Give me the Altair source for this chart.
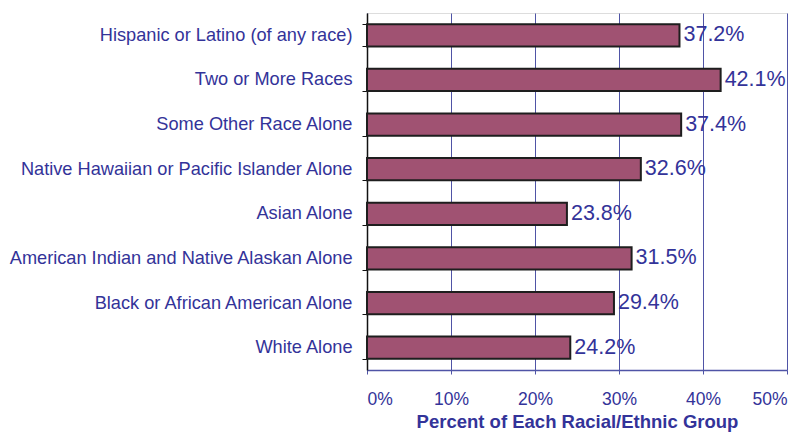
import altair as alt
import pandas as pd

categories = [
    "Hispanic or Latino (of any race)",
    "Two or More Races",
    "Some Other Race Alone",
    "Native Hawaiian or Pacific Islander Alone",
    "Asian Alone",
    "American Indian and Native Alaskan Alone",
    "Black or African American Alone",
    "White Alone",
]
values = [37.2, 42.1, 37.4, 32.6, 23.8, 31.5, 29.4, 24.2]
x_ticks = [0, 10, 20, 30, 40, 50]

df = pd.DataFrame({"cat": categories, "val": [v / 100 for v in values],
                   "label": [f"{v:.1f}%" for v in values]})

FONT = "Liberation Sans"
TXT = "#333399"
GRID = "#4f54a6"

y_enc = alt.Y("cat:N", sort=categories, title=None,
              scale=alt.Scale(paddingInner=0.5, paddingOuter=0.25),
              axis=alt.Axis(tickBand="extent", domainColor="#111111", domainWidth=1.5,
                            tickColor="#111111", tickSize=5, tickWidth=1,
                            labelPadding=10, labelFont=FONT, labelFontSize=18.2,
                            labelColor=TXT, labelLimit=400, grid=False))
x_enc = alt.X("val:Q", title="Percent of Each Racial/Ethnic Group",
              scale=alt.Scale(domain=[0, 0.5], nice=False),
              axis=alt.Axis(values=[t / 100 for t in x_ticks], format=".0%",
                            grid=True, gridColor=GRID, gridWidth=1,
                            domainColor=GRID, domainWidth=1.5,
                            tickColor=GRID, tickSize=4, labelPadding=16,
                            labelFont=FONT, labelFontSize=17.5, labelColor=TXT,
                            titleFont=FONT, titleFontSize=18.5, titleFontWeight="bold",
                            titleColor=TXT, titlePadding=5))

bars = alt.Chart(df).mark_bar(color="#a05272", stroke="#1e1e1e", strokeWidth=2).encode(
    y=y_enc, x=x_enc)
labels = alt.Chart(df).mark_text(align="left", baseline="middle", dx=4,
                                 font=FONT, fontSize=21.5, color=TXT).encode(
    y=alt.Y("cat:N", sort=categories), x="val:Q", text="label:N")

chart = (bars + labels).properties(
    width=420, height=357,
    autosize=alt.AutoSizeParams(type="none"),
    padding={"left": 359, "top": 5, "right": 10, "bottom": 65},
).configure_view(stroke=GRID, strokeWidth=1.5).configure(background="white")

chart.save("out.html", embed_options={"renderer": "svg", "actions": False})
